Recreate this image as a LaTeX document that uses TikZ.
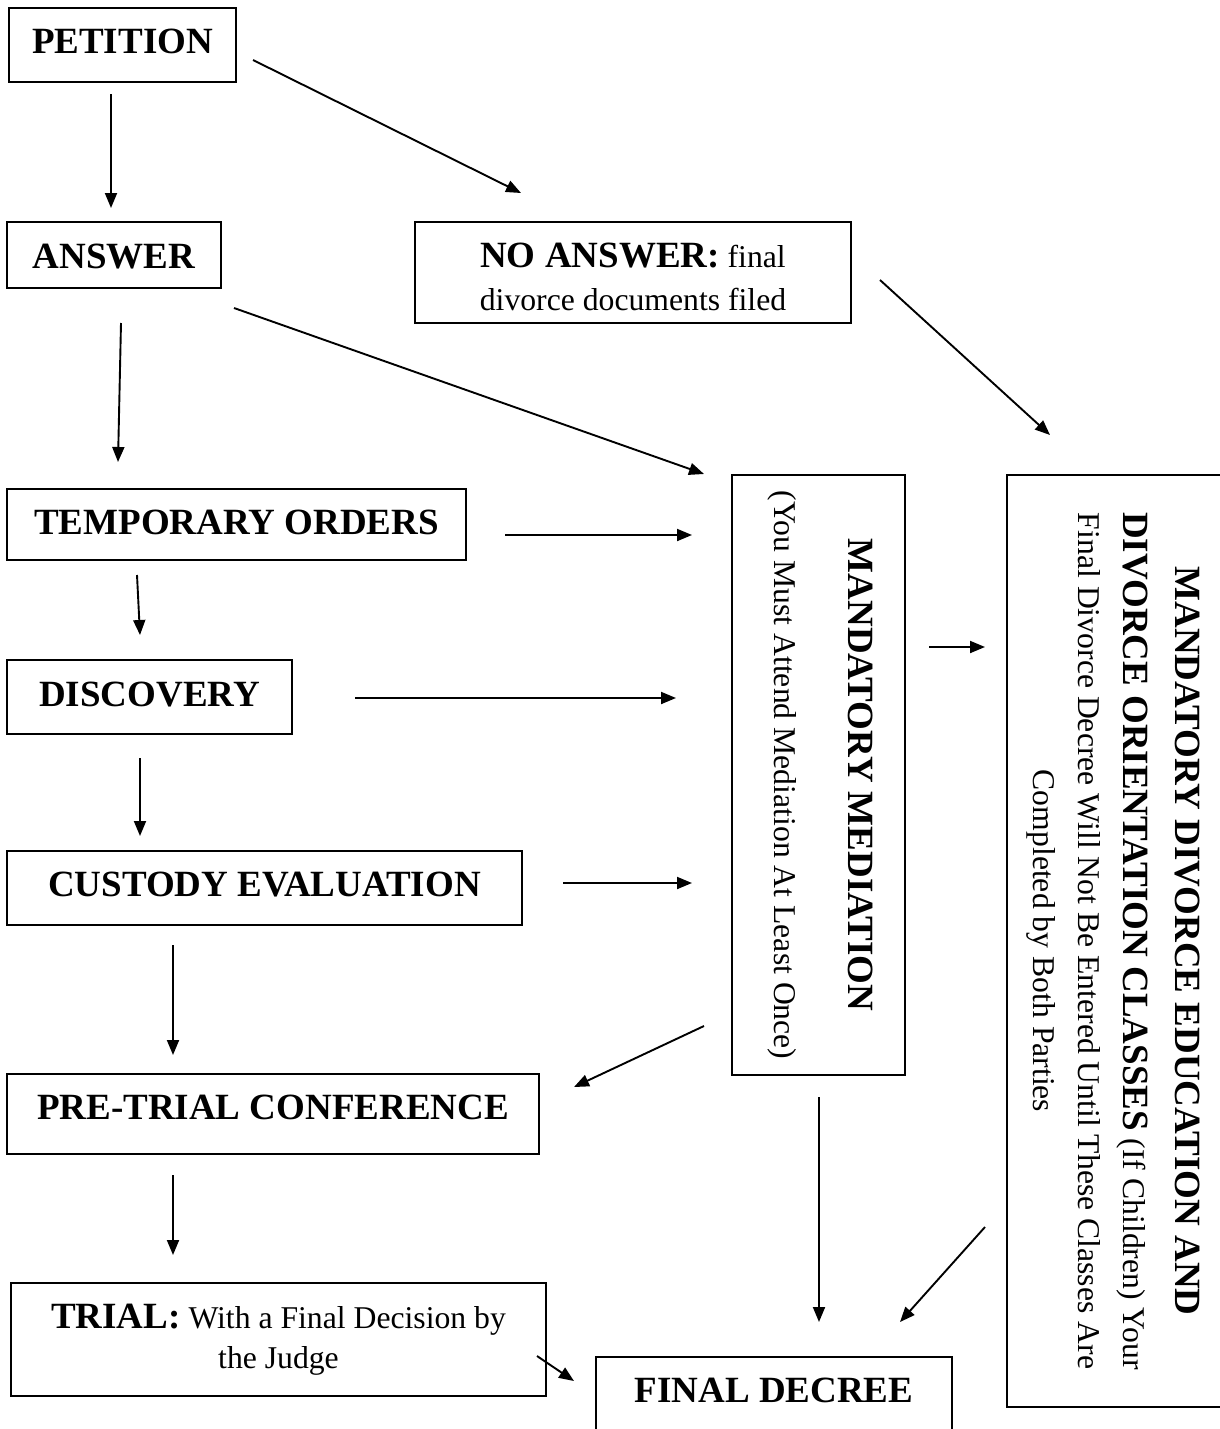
\documentclass[tikz,border=0pt]{standalone}
\usepackage{fontspec}
\setmainfont{Liberation Serif}
\usetikzlibrary{arrows.meta,calc}
\newcommand\bsz{\fontsize{37}{43}\selectfont\bfseries}
\newcommand\rsz{\fontsize{31.7}{43}\selectfont}
\begin{document}
\begin{tikzpicture}[x=1pt,y=-1pt,
  box/.style={draw, line width=1.5pt, inner sep=0pt, font=\bsz},
  arr/.style={line width=1.9pt, -{Triangle[length=15pt,width=12pt]}}]
\fill[white] (0,0) rectangle (1220,1429);
\useasboundingbox (0,0) rectangle (1220,1429);

\node[box, minimum width=227pt, minimum height=74pt, text height=26pt, text depth=8pt] (pet) at (122.5,45) {PETITION};
\node[box, minimum width=214pt, minimum height=66pt, text height=34pt, text depth=8pt] (ans) at (114,255) {ANSWER};
\node[box, minimum width=436pt, minimum height=101pt, text width=430pt, align=flush center, text height=10pt, text depth=21pt, font=\rsz] (noans) at (633,272.5) {{\bsz NO ANSWER:} final\\divorce documents filed};
\node[box, minimum width=459pt, minimum height=71pt, text height=27pt, text depth=8pt] (temp) at (236.5,524.5) {TEMPORARY ORDERS};
\node[box, minimum width=285pt, minimum height=74pt, text height=26pt, text depth=8pt] (disc) at (149.5,697) {DISCOVERY};
\node[box, minimum width=515pt, minimum height=74pt, text height=24pt, text depth=8pt] (cust) at (264.5,888) {CUSTODY EVALUATION};
\node[box, minimum width=532pt, minimum height=80pt, text height=18pt, text depth=8pt] (pre) at (273,1114) {PRE-TRIAL CONFERENCE};
\node[box, minimum width=535pt, minimum height=113pt, text width=530pt, align=flush center, text height=5pt, text depth=28pt, font=\fontsize{31.7}{40}\selectfont] (trial) at (278.5,1339.5) {{\bsz TRIAL:} With a Final Decision by\\the Judge};
\node[box, minimum width=356pt, minimum height=88pt, text height=10pt, text depth=8pt] (final) at (774,1401) {FINAL DECREE};
\node[box, rotate=-90, minimum width=600pt, minimum height=173pt, text width=590pt, align=flush center, text height=5pt, text depth=64pt, font=\rsz] (med) at (818.5,775) {{\bsz MANDATORY MEDIATION}\\[31pt](You Must Attend Mediation At Least Once)};
\node[box, rotate=-90, minimum width=932pt, minimum height=219pt, text width=920pt, align=flush center, text height=5pt, text depth=122pt, font=\fontsize{31.7}{45}\selectfont] (edu) at (1116.5,941) {{\bsz MANDATORY DIVORCE EDUCATION AND}\\[7pt]{\bsz DIVORCE ORIENTATION CLASSES} (If Children) Your\\Final Divorce Decree Will Not Be Entered Until These Classes Are\\Completed by Both Parties};

\draw[arr] ($(pet)+(-11.5,49)$) -- ($(ans)+(-3,-47)$);
\draw[arr] ($(pet)+(130.5,15)$) -- ($(noans)+(-112,-79.5)$);
\draw[arr] ($(ans)+(7,68)$) -- ($(temp)+(-118.5,-62.5)$);
\draw[arr] ($(ans)+(120,53)$) -- ($(med)+(-114.5,-301)$);
\draw[arr] ($(noans)+(247,7.5)$) -- ($(edu)+(-66.5,-506)$);
\draw[arr] ($(temp)+(268.5,10.5)$) -- ($(med)+(-126.5,-240)$);
\draw[arr] ($(temp)+(-99.5,50.5)$) -- ($(disc)+(-9.5,-62)$);
\draw[arr] ($(disc)+(205.5,1)$) -- ($(med)+(-142.5,-77)$);
\draw[arr] ($(disc)+(-9.5,61)$) -- ($(cust)+(-124.5,-52)$);
\draw[arr] ($(cust)+(298.5,-5)$) -- ($(med)+(-126.5,108)$);
\draw[arr] ($(cust)+(-91.5,57)$) -- ($(pre)+(-100,-59)$);
\draw[arr] ($(med)+(-114.5,251)$) -- ($(pre)+(301,-27)$);
\draw[arr] ($(pre)+(-100,61)$) -- ($(trial)+(-105.5,-84.5)$);
\draw[arr] ($(med)+(0.5,322)$) -- ($(final)+(45,-79)$);
\draw[arr] ($(edu)+(-131.5,286)$) -- ($(final)+(126,-79)$);
\draw[arr] ($(trial)+(258.5,16.5)$) -- ($(final)+(-200,-20)$);
\draw[arr] ($(med)+(110.5,-128)$) -- ($(edu)+(-131.5,-294)$);
\end{tikzpicture}
\end{document}
